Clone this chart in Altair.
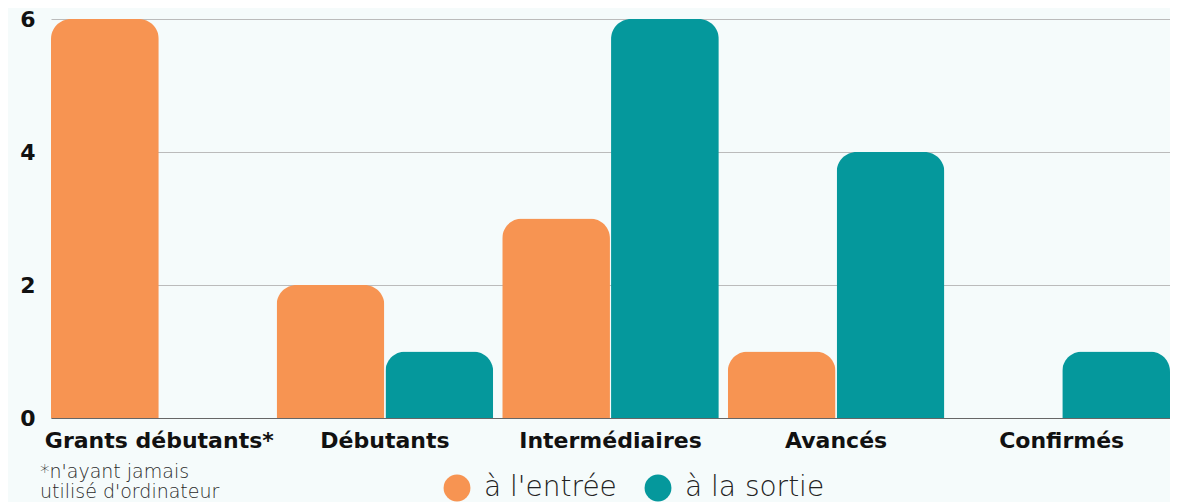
import altair as alt
import pandas as pd

categories = ["Grants débutants*", "Débutants", "Intermédiaires", "Avancés", "Confirmés"]
series = ["à l'entrée", "à la sortie"]
entree = [6, 2, 3, 1, 0]
sortie = [0, 1, 6, 4, 1]
colors = ["#F79452", "#05989C"]
footnote = ["*n'ayant jamais", "utilisé d'ordinateur"]

rows = []
for c, a, b in zip(categories, entree, sortie):
    rows.append({"cat": c, "series": series[0], "value": a})
    rows.append({"cat": c, "series": series[1], "value": b})
df = pd.DataFrame(rows)

FONT = "DejaVu Sans"

bars = alt.Chart(df).mark_bar(cornerRadiusTopLeft=20, cornerRadiusTopRight=20).encode(
    x=alt.X(
        "cat:N",
        sort=categories,
        scale=alt.Scale(paddingInner=0.04, paddingOuter=0),
        axis=alt.Axis(
            title=None, labelAngle=0, labelFontSize=22, labelFontWeight="bold",
            labelColor="#111111", labelPadding=12, ticks=False, domain=True,
            domainColor="#666666", domainWidth=1.2, labelFont=FONT, labelLimit=0,
        ),
    ),
    xOffset=alt.XOffset("series:N", sort=series, scale=alt.Scale(paddingInner=0.01, paddingOuter=0)),
    y=alt.Y(
        "value:Q",
        scale=alt.Scale(domain=[0, 6], nice=False),
        axis=alt.Axis(
            values=[0, 2, 4, 6], title=None, domain=False, ticks=False,
            labelPadding=16, gridColor="#bbbbbb", gridWidth=1,
            labelFontSize=22, labelFontWeight="bold", labelColor="#111111", labelFont=FONT,
        ),
    ),
    color=alt.Color(
        "series:N",
        sort=series,
        scale=alt.Scale(domain=series, range=colors),
        legend=alt.Legend(
            title=None, orient="none", direction="horizontal",
            legendX=392, legendY=455, symbolType="circle", symbolSize=720,
            symbolStrokeWidth=0, labelFontSize=28, labelFont=FONT, labelFontWeight=200,
            labelColor="#222222", labelOffset=13, columnPadding=27, padding=0,
            labelExpr="indexof(datum.label, 'sortie') >= 0 ? '\u00a0\u00a0' + datum.label : datum.label",
        ),
    ),
)

note = alt.Chart(pd.DataFrame({"a": [0]})).mark_text(
    align="left", baseline="middle", fontSize=19, lineHeight=20,
    font=FONT, fontWeight=200, color="#2a2a2a",
).encode(
    x=alt.value(-11),
    y=alt.value(453),
    text=alt.value(footnote),
)

chart = alt.layer(bars, note).properties(
    width=1119, height=399,
    autosize=alt.AutoSizeParams(type="none"),
    padding={"left": 43, "top": 11, "right": 0, "bottom": 84},
    background="#f5fbfb",
).configure_view(stroke=None)

chart.save("out.html", embed_options={"renderer": "svg", "actions": False})
